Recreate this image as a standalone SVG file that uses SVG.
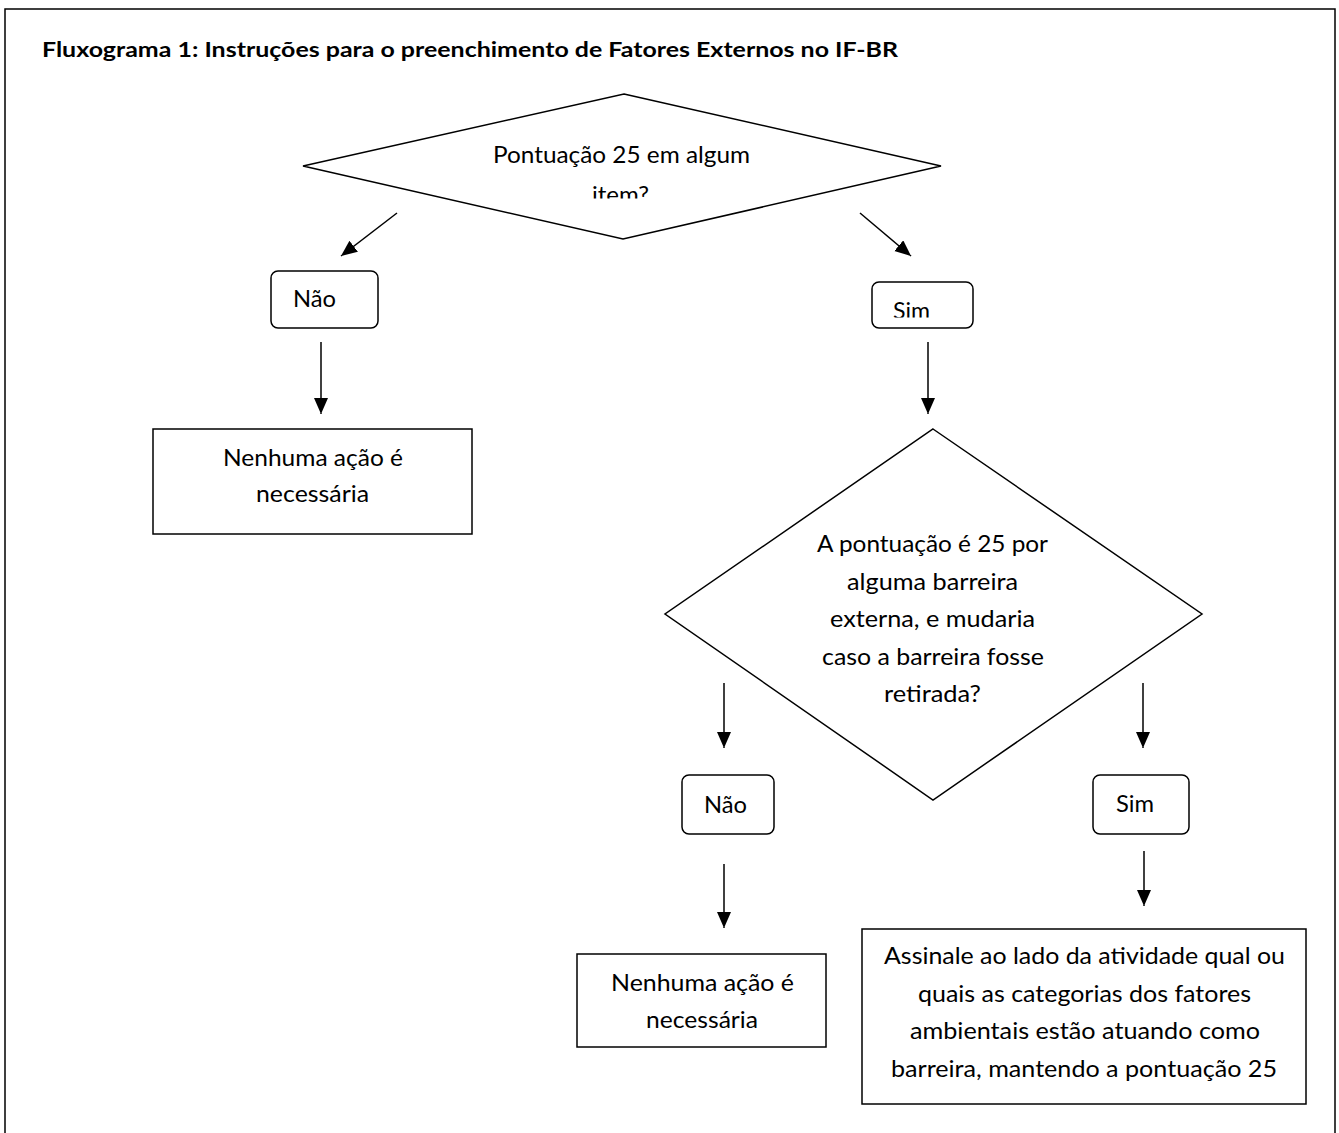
<svg xmlns="http://www.w3.org/2000/svg" width="1339" height="1133" viewBox="0 0 1339 1133">
<style>
.ln{fill:none;stroke:#000;stroke-width:1.5}
.sh{fill:#fff;stroke:#000;stroke-width:1.5}
.t{font-family:Lato,"Open Sans","Liberation Sans",sans-serif;font-size:24px;fill:#000;text-anchor:middle}
.ttl{font-family:Lato,"Open Sans","Liberation Sans",sans-serif;font-size:20px;font-weight:bold;fill:#000}
</style>
<defs>
<marker id="ah" markerUnits="userSpaceOnUse" markerWidth="14" markerHeight="16" refX="16" refY="7" orient="auto">
<path d="M0,0 L16,7 L0,14 z" fill="#000"/>
</marker>
<clipPath id="c1"><rect x="300" y="90" width="650" height="108.5"/></clipPath>
<clipPath id="c2"><rect x="872" y="282" width="101" height="35.5"/></clipPath>
</defs>
<rect width="1339" height="1133" fill="#fff"/>
<path class="ln" d="M5,1133 V9 H1335 V1133"/>
<text class="ttl" x="42" y="57" textLength="856" lengthAdjust="spacingAndGlyphs">Fluxograma 1: Instruções para o preenchimento de Fatores Externos no IF-BR</text>

<g id="d1">
<polygon class="sh" points="624,94 941,166 623,239 303,166"/>
<text class="t" x="621.5" y="163" textLength="257" lengthAdjust="spacingAndGlyphs">Pontuação 25 em algum</text>
<text class="t" x="620.5" y="203" textLength="57" lengthAdjust="spacingAndGlyphs" clip-path="url(#c1)">item?</text>
</g>
<g id="nao1">
<rect class="sh" x="271" y="271" width="107" height="57" rx="7"/>
<text class="t" x="314.5" y="307" textLength="43" lengthAdjust="spacingAndGlyphs">Não</text>
</g>
<g id="sim1">
<rect class="sh" x="872" y="282" width="101" height="46" rx="7"/>
<text class="t" x="911.5" y="319" textLength="37" lengthAdjust="spacingAndGlyphs" clip-path="url(#c2)">Sim</text>
</g>
<g id="acao1">
<rect class="sh" x="153" y="429" width="319" height="105"/>
<text class="t" x="313" y="466" textLength="180" lengthAdjust="spacingAndGlyphs">Nenhuma ação é</text>
<text class="t" x="312.5" y="502" textLength="113" lengthAdjust="spacingAndGlyphs">necessária</text>
</g>
<g id="d2">
<polygon class="sh" points="933,429 1202,614 933,800 665,614"/>
<text class="t" x="932.5" y="552" textLength="231" lengthAdjust="spacingAndGlyphs">A pontuação é 25 por</text>
<text class="t" x="932.5" y="590" textLength="171" lengthAdjust="spacingAndGlyphs">alguma barreira</text>
<text class="t" x="932.5" y="627" textLength="205" lengthAdjust="spacingAndGlyphs">externa, e mudaria</text>
<text class="t" x="933" y="665" textLength="222" lengthAdjust="spacingAndGlyphs">caso a barreira fosse</text>
<text class="t" x="932.5" y="702" textLength="97" lengthAdjust="spacingAndGlyphs">retirada?</text>
</g>
<g id="nao2">
<rect class="sh" x="682" y="775" width="92" height="59" rx="7"/>
<text class="t" x="725.5" y="813" textLength="43" lengthAdjust="spacingAndGlyphs">Não</text>
</g>
<g id="sim2">
<rect class="sh" x="1093" y="775" width="96" height="59" rx="7"/>
<text class="t" x="1135" y="812" textLength="38" lengthAdjust="spacingAndGlyphs">Sim</text>
</g>
<g id="acao2">
<rect class="sh" x="577" y="954" width="249" height="93"/>
<text class="t" x="702.5" y="991" textLength="183" lengthAdjust="spacingAndGlyphs">Nenhuma ação é</text>
<text class="t" x="702" y="1028" textLength="112" lengthAdjust="spacingAndGlyphs">necessária</text>
</g>
<g id="assinale">
<rect class="sh" x="862" y="929" width="444" height="175"/>
<text class="t" x="1084.5" y="964" textLength="401" lengthAdjust="spacingAndGlyphs">Assinale ao lado da atividade qual ou</text>
<text class="t" x="1084.5" y="1002" textLength="333" lengthAdjust="spacingAndGlyphs">quais as categorias dos fatores</text>
<text class="t" x="1085" y="1039" textLength="350" lengthAdjust="spacingAndGlyphs">ambientais estão atuando como</text>
<text class="t" x="1084" y="1077" textLength="386" lengthAdjust="spacingAndGlyphs">barreira, mantendo a pontuação 25</text>
</g>
<g id="connectors">
<line class="ln" x1="397" y1="213" x2="341" y2="256" marker-end="url(#ah)"/>
<line class="ln" x1="860" y1="213" x2="911" y2="256" marker-end="url(#ah)"/>
<line class="ln" x1="321" y1="342" x2="321" y2="414" marker-end="url(#ah)"/>
<line class="ln" x1="928" y1="342" x2="928" y2="414" marker-end="url(#ah)"/>
<line class="ln" x1="724" y1="683" x2="724" y2="748" marker-end="url(#ah)"/>
<line class="ln" x1="1143" y1="683" x2="1143" y2="748" marker-end="url(#ah)"/>
<line class="ln" x1="724" y1="864" x2="724" y2="928" marker-end="url(#ah)"/>
<line class="ln" x1="1144" y1="851" x2="1144" y2="906" marker-end="url(#ah)"/>
</g>
</svg>
